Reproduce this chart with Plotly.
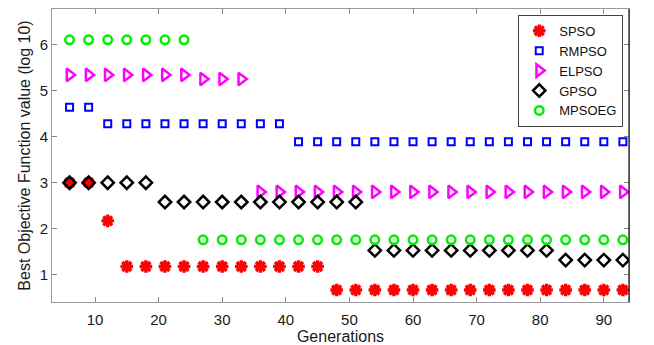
import plotly.graph_objects as go

generations = list(range(6, 94, 3))  # 6, 9, ..., 93 (30 points)

spso = [3.0, 3.0, 2.17] + [1.18] * 11 + [0.67] * 16
rmpso = [4.64, 4.64] + [4.28] * 10 + [3.89] * 18
elpso = [5.34] * 7 + [5.25] * 3 + [2.8] * 20
gpso = [3.0] * 5 + [2.58] * 11 + [1.53] * 10 + [1.32] * 4
mpsoeg = [6.1] * 7 + [1.76] * 23

series = [
    ("SPSO", spso, "asterisk-open", "#ff0000", 10.5, 3.4),
    ("RMPSO", rmpso, "square-open", "#0000ff", 7, 2),
    ("ELPSO", elpso, "triangle-right-open", "#ff00ff", 11, 2.5),
    ("GPSO", gpso, "diamond-open", "#000000", 9.5, 2.5),
    ("MPSOEG", mpsoeg, "circle-open", "#00ee00", 8.5, 2.5),
]

fig = go.Figure()
for name, vals, sym, col, sz, lw in series:
    fig.add_trace(go.Scatter(
        x=generations, y=vals, mode="markers", name=name,
        marker=dict(symbol=sym, size=sz, color=col, line=dict(color=col, width=lw)),
    ))

font_family = "Liberation Sans, Arial, sans-serif"
fig.update_layout(
    width=654, height=345,
    margin=dict(l=52, r=25, t=9, b=43),
    plot_bgcolor="white", paper_bgcolor="white",
    font=dict(family=font_family, size=15, color="#1a1a1a"),
    showlegend=True,
    legend=dict(
        x=0.99, y=0.98, xanchor="right", yanchor="top",
        bordercolor="#444", borderwidth=1, bgcolor="white",
        font=dict(size=13, color="#111"), tracegroupgap=0,
        itemwidth=30,
    ),
    xaxis=dict(
        range=[3.24, 93.96], tickvals=[10, 20, 30, 40, 50, 60, 70, 80, 90],
        ticks="inside", ticklen=5, tickcolor="#888", showgrid=False, zeroline=False,
        showline=True, linecolor="#999", linewidth=1, mirror="ticks",
        title=dict(text="Generations", standoff=7, font=dict(size=16)),
        tickfont=dict(size=15), ticklabelstandoff=4, automargin=False,
    ),
    yaxis=dict(
        range=[0.41, 6.77], tickvals=[1, 2, 3, 4, 5, 6],
        ticks="inside", ticklen=5, tickcolor="#888", showgrid=False, zeroline=False,
        showline=True, linecolor="#999", linewidth=1, mirror="ticks",
        title=dict(text="Best Objective Function value (log 10)", standoff=5, font=dict(size=16)),
        tickfont=dict(size=15), automargin=False,
    ),
    shapes=[
        dict(type="line", xref="paper", yref="paper", x0=1, x1=1, y0=0, y1=1,
             line=dict(color="#111", width=1.2)),
    ],
)

fig.write_html("out.html")
